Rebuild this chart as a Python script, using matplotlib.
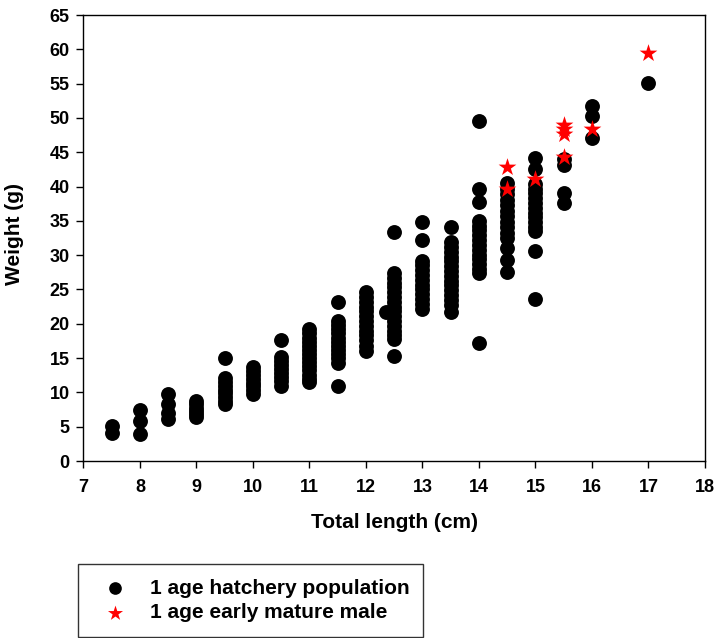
import matplotlib
matplotlib.use("Agg")
import matplotlib.pyplot as plt

plt.rcParams['font.family'] = ['Liberation Sans', 'DejaVu Sans']
plt.rcParams['font.weight'] = 'bold'

# 1 age hatchery population: total length (cm) and weight (g)
hatch_len = ([7.5] * 2 + [8] * 3 + [8.5] * 4 + [9] * 6 + [9.5] * 9 + [10] * 8
             + [10.5] * 9 + [11] * 14 + [11.5] * 13 + [12] * 13 + [12.35]
             + [12.5] * 17 + [13] * 13 + [13.5] * 16 + [14] * 16 + [14.5] * 14
             + [15] * 15 + [15.5] * 4 + [16] * 3 + [17])
hatch_wt = [
    5.1, 4.1,
    7.4, 5.8, 3.9,
    9.8, 8.3, 7.0, 6.1,
    8.8, 8.3, 7.8, 7.3, 6.8, 6.4,
    15.0, 12.1, 11.5, 11.0, 10.4, 9.9, 9.4, 8.8, 8.3,
    13.7, 13.1, 12.5, 12.0, 11.4, 10.9, 10.3, 9.8,
    17.6, 15.2, 14.6, 14.0, 13.4, 12.8, 12.2, 11.6, 10.9,
    19.2, 18.6, 18.0, 17.4, 16.8, 16.2, 15.6, 15.0, 14.4, 13.8, 13.2, 12.6, 12.0, 11.5,
    23.2, 20.4, 19.8, 19.2, 18.6, 18.0, 17.4, 16.8, 16.2, 15.6, 15.0, 14.3, 10.9,
    24.6, 23.9, 23.2, 22.5, 21.8, 21.1, 20.4, 19.7, 19.0, 18.3, 17.6, 16.8, 16.0,
    21.7,
    33.4, 27.4, 26.7, 26.0, 25.3, 24.6, 23.9, 23.2, 22.5, 21.8, 21.1, 20.4, 19.7, 19.0,
    18.4, 17.8, 15.3,
    34.9, 32.2, 29.2, 28.5, 27.8, 27.1, 26.4, 25.7, 25.0, 24.3, 23.6, 22.9, 22.2,
    34.1, 31.9, 31.2, 30.5, 29.8, 29.1, 28.4, 27.7, 27.0, 26.3, 25.6, 24.9, 24.2, 23.5,
    22.8, 21.7,
    49.6, 39.7, 37.8, 35.0, 34.3, 33.6, 32.9, 32.2, 31.5, 30.8, 30.1, 29.4, 28.7, 28.0,
    27.4, 17.2,
    40.5, 39.7, 38.9, 38.1, 37.3, 36.5, 35.7, 34.9, 34.1, 33.3, 32.5, 31.0, 29.3, 27.5,
    44.2, 42.6, 40.4, 39.7, 39.0, 38.3, 37.6, 36.9, 36.2, 35.5, 34.8, 34.1, 33.5, 30.6,
    23.6,
    44.0, 43.1, 39.1, 37.6,
    51.8, 50.3, 47.1,
    55.1,
]

# 1 age early mature male
male_len = [14.5, 14.5, 15, 15.5, 15.5, 15.5, 15.5, 16, 17]
male_wt = [42.8, 39.6, 41.1, 49.0, 48.4, 47.7, 44.3, 48.4, 59.5]

xticks = list(range(7, 19))
yticks = list(range(0, 70, 5))

fig = plt.figure(figsize=(7.16, 6.38), dpi=100)
ax = fig.add_axes([0.1166, 0.2774, 0.868, 0.699])

ax.scatter(hatch_len, hatch_wt, s=115, c='black', marker='o', linewidths=0,
           label='1 age hatchery population', zorder=2)
ax.scatter(male_len, male_wt, s=180, c='red', marker='*', linewidths=0,
           label='1 age early mature male', zorder=3)

ax.set_xlim(7, 18)
ax.set_ylim(0, 65)
ax.set_xticks(xticks)
ax.set_yticks(yticks)
ax.tick_params(direction='out', length=5, width=1, labelsize=13)
ax.tick_params(axis='x', pad=8)
ax.tick_params(axis='y', pad=5)
for lab in ax.get_xticklabels() + ax.get_yticklabels():
    lab.set_fontweight('bold')
for sp in ax.spines.values():
    sp.set_linewidth(1)
    sp.set_color('black')

ax.set_xlabel('Total length (cm)', fontsize=15, fontweight='bold', labelpad=12)
ax.set_ylabel('Weight (g)', fontsize=15, fontweight='bold', labelpad=1.5)
ax.yaxis.set_label_coords(-0.095, 0.51)

leg = fig.legend(loc='lower left', bbox_to_anchor=(0.109, 0.002, 0.482, 0.119),
                 mode='expand', fontsize=15, frameon=True, fancybox=False,
                 edgecolor='black', borderpad=0.7, handletextpad=0.6,
                 borderaxespad=0, labelspacing=0.25, markerscale=0.85,
                 handlelength=2.15)
leg.get_frame().set_linewidth(1)
for t in leg.get_texts():
    t.set_fontweight('bold')

fig.savefig('out.png', dpi=100)
